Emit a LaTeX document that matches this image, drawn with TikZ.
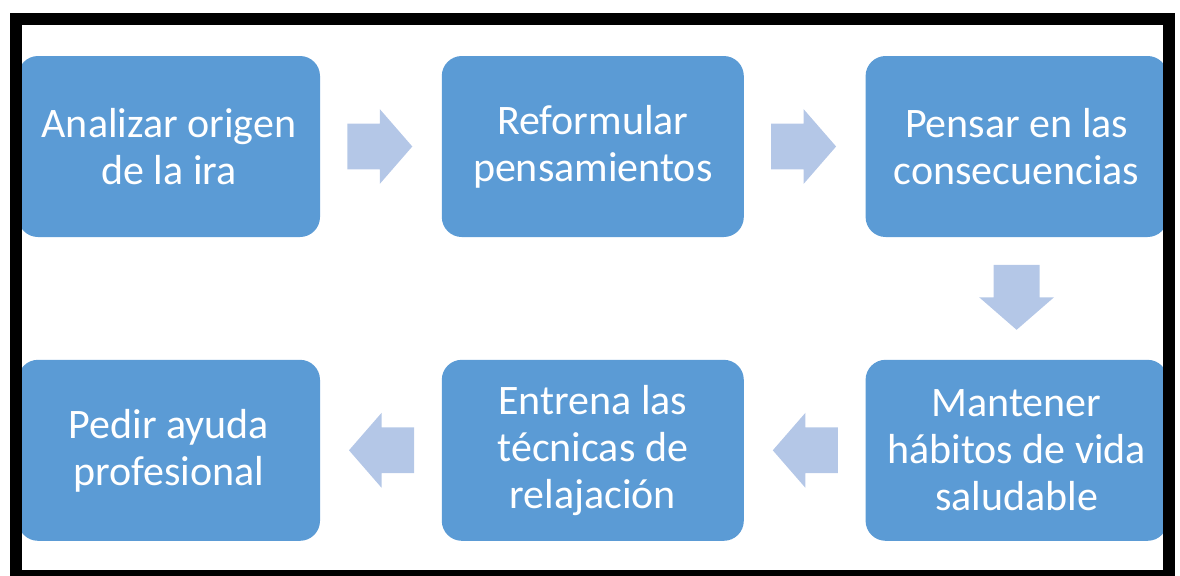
\documentclass[tikz,border=0pt]{standalone}
\usepackage{fontspec}
\setmainfont{Carlito}
\usetikzlibrary{positioning,shapes.arrows,calc}
\definecolor{pasoazul}{HTML}{5B9BD5}
\definecolor{flechaazul}{HTML}{B4C7E7}
\tikzset{
    ira paso/.style={
        rectangle,
        minimum width=151pt,
        minimum height=90.5pt,
        rounded corners=10pt,
        fill=pasoazul,
        draw=none,
        text=white,
        align=center,
        inner sep=0pt,
        font=\fontsize{21pt}{23.5pt}\selectfont
    },
    ira flecha/.style={
        single arrow,
        fill=flechaazul,
        draw=none,
        inner xsep=0pt,
        inner ysep=11.25pt,
        minimum height=32.5pt,
        single arrow head extend=7.25pt,
        single arrow tip angle=98,
        anchor=tail,
        rotate=#1
    }
}

\begin{document}
\begin{tikzpicture}[x=0.5pt,y=-0.5pt,node distance=61pt and 60.5pt]
\path[use as bounding box, clip] (0,0) rectangle (1180,575);

% fila de arriba
\node[ira paso] (a1) at (169,146.5) {Analizar origen\\de la ira};
\node[ira paso, right=of a1] (a2) {Reformular\\pensamientos};
\node[ira paso, right=of a2] (a3) {Pensar en las\\consecuencias};

% fila de abajo (de derecha a izquierda)
\node[ira paso, below=of a3] (b3) {Mantener\\hábitos de vida\\saludable};
\node[ira paso, left=of b3] (b2) {Entrena las\\técnicas de\\relajación};
\node[ira paso, left=of b2] (b1) {Pedir ayuda\\profesional};

% flechas entre pasos (la cola a 26.5px del paso anterior)
\node[ira flecha=0] (f1) at ($(a1.east)+(26.5,0)$) {};
\node[ira flecha=0] (f2) at ($(a2.east)+(26.5,0)$) {};
\node[ira flecha=-90] (f3) at ($(a3.south)+(0,27)$) {};
\node[ira flecha=180] (f4) at ($(b3.west)+(-27,0)$) {};
\node[ira flecha=180] (f5) at ($(b2.west)+(-27,0)$) {};

% marco negro
\draw[line width=6pt] (16,19) rectangle (1169,576);

\end{tikzpicture}
\end{document}
